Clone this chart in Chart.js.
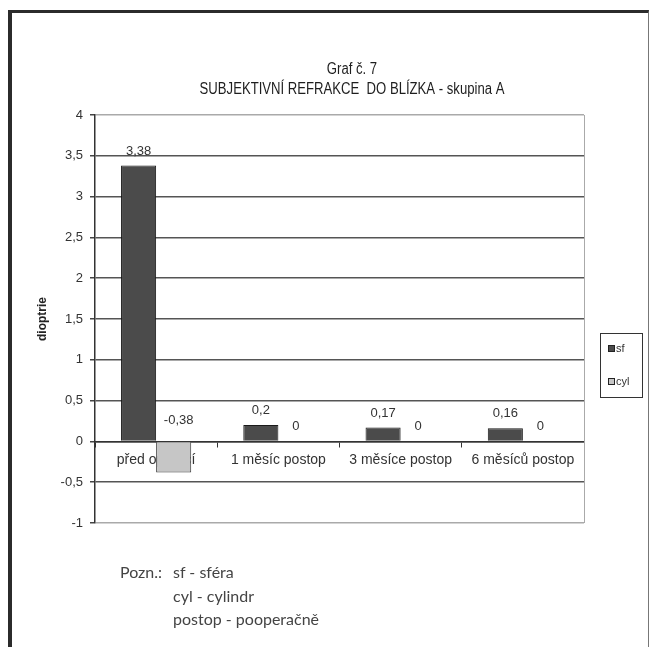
<!DOCTYPE html>
<html lang="cs">
<head>
    <meta charset="UTF-8">
    <title>Graf č. 7</title>
    <script src="https://cdn.jsdelivr.net/npm/chart.js"></script>
    <style>
        html, body { margin: 0; padding: 0; background: #fff; overflow: hidden; }
        .page { position: relative; width: 651px; height: 647px; }
        .frame {
            position: absolute; left: 8px; top: 10px; width: 636px; height: 660px;
            border-left: 4px solid #2b2b2b; border-top: 3px solid #2b2b2b; border-right: 1px solid #777;
        }
        .chart-box { position: absolute; left: 0; top: 0; width: 651px; height: 647px; }
        .notes {
            position: absolute; left: 120px; top: 560px;
            font-family: Lato, "Open Sans", sans-serif; font-size: 16px; line-height: 23.5px; color: #444;
        }
        .notes .label { position: absolute; left: 0; top: 0; white-space: nowrap; }
        .notes .lines { position: absolute; left: 53px; top: 0; white-space: nowrap; }
    </style>
</head>
<body>
<div class="page">
    <div class="frame"></div>
    <div class="chart-box"><canvas id="chart"></canvas></div>
    <div class="notes">
        <div class="label">Pozn.:</div>
        <div class="lines">sf - sféra<br>cyl - cylindr<br>postop - pooperačně</div>
    </div>
</div>
<script>
    // data
    const categories = ['před operací', '1 měsíc postop', '3 měsíce postop', '6 měsíců postop'];
    const seriesNames = ['sf', 'cyl'];
    const sfValues = [3.38, 0.2, 0.17, 0.16];
    const cylValues = [-0.38, 0, 0, 0];
    const yMin = -1, yMax = 4, yStep = 0.5;
    const titleLines = ['Graf č. 7', 'SUBJEKTIVNÍ REFRAKCE  DO BLÍZKA - skupina A'];
    const yAxisTitle = 'dioptrie';

    const fmt = v => String(Math.round(v * 100) / 100).replace('.', ',');
    const FONT = '"Liberation Sans", Arial, sans-serif';

    // two-line title in a condensed face (squeezed horizontally, no narrow font installed)
    const titlePlugin = {
        id: 'titleLines',
        afterDraw(chart) {
            const ctx = chart.ctx;
            ctx.save();
            ctx.fillStyle = '#1e1e1e';
            ctx.textAlign = 'center';
            ctx.textBaseline = 'middle';
            ctx.font = '16px ' + FONT;
            const cx = 352, sx = 0.82;
            ctx.scale(sx, 1);
            titleLines.forEach((t, i) => ctx.fillText(t, cx / sx, 70 + i * 20));
            ctx.restore();
        }
    };

    // value labels above bars (Excel style)
    const valueLabels = {
        id: 'valueLabels',
        afterDatasetsDraw(chart) {
            const ctx = chart.ctx;
            ctx.save();
            ctx.fillStyle = '#333';
            ctx.font = '13px ' + FONT;
            ctx.textAlign = 'center';
            ctx.textBaseline = 'bottom';
            chart.data.datasets.forEach((ds, di) => {
                chart.getDatasetMeta(di).data.forEach((bar, i) => {
                    const neg = ds.data[i] < 0;
                    const y = Math.min(bar.y, bar.base) - (neg ? 15 : 8);
                    ctx.fillText(fmt(ds.data[i]), bar.x + (neg ? 5 : 0), y);
                });
            });
            ctx.restore();
        }
    };

    // plot border on the right + boxed legend
    const extras = {
        id: 'extras',
        afterDraw(chart) {
            const ctx = chart.ctx;
            const a = chart.chartArea;
            ctx.save();
            ctx.strokeStyle = '#aaa';
            ctx.lineWidth = 1;
            ctx.beginPath();
            ctx.moveTo(Math.round(a.right) + 0.5, a.top);
            ctx.lineTo(Math.round(a.right) + 0.5, a.bottom);
            ctx.stroke();

            const lx = Math.round(a.right) + 16, ly = 333;
            ctx.strokeStyle = '#333';
            ctx.strokeRect(lx + 0.5, ly + 0.5, 42, 64);
            ctx.font = '11px ' + FONT;
            ctx.textBaseline = 'middle';
            chart.data.datasets.forEach((ds, i) => {
                const cy = ly + 15 + i * 33;
                ctx.fillStyle = ds.backgroundColor;
                ctx.fillRect(lx + 8, cy - 3, 6, 6);
                ctx.strokeStyle = '#222';
                ctx.strokeRect(lx + 8.5, cy - 2.5, 6, 6);
                ctx.fillStyle = '#333';
                ctx.fillText(ds.label, lx + 16, cy + 1);
            });
            ctx.restore();
        }
    };

    new Chart(document.getElementById('chart'), {
        type: 'bar',
        data: {
            labels: categories,
            datasets: [
                { label: seriesNames[0], data: sfValues, backgroundColor: '#4b4b4b', borderColor: '#1a1a1a', borderWidth: 1 },
                { label: seriesNames[1], data: cylValues, backgroundColor: '#c6c6c6', borderColor: '#3a3a3a', borderWidth: 1 }
            ]
        },
        options: {
            responsive: true,
            maintainAspectRatio: false,
            animation: false,
            layout: { padding: { left: 35, right: 67, top: 115, bottom: 124 } },
            datasets: { bar: { categoryPercentage: 0.574, barPercentage: 1 } },
            plugins: { legend: { display: false }, title: { display: false }, tooltip: { enabled: false } },
            scales: {
                x: {
                    position: { y: 0 },
                    grid: { offset: true, drawOnChartArea: false, drawTicks: true, tickLength: 5, color: '#333' },
                    border: { display: true, color: '#333', width: 1.5 },
                    ticks: { color: '#333', padding: 5, font: { size: 14, family: FONT }, maxRotation: 0 }
                },
                y: {
                    min: yMin, max: yMax,
                    afterFit(scale) { scale.width = 60; },
                    ticks: { stepSize: yStep, color: '#333', padding: 7, callback: v => fmt(v),
                             font: { size: 13, family: FONT } },
                    grid: {
                        color: c => (c.tick && (c.tick.value === yMax || c.tick.value === yMin)) ? '#aaa' : '#555',
                        tickColor: '#444', tickLength: 5, lineWidth: 1.5
                    },
                    border: { display: true, color: '#333', width: 1.5 },
                    title: { display: true, text: yAxisTitle, color: '#222', padding: 0,
                             font: { size: 12, weight: 'bold', family: FONT } }
                }
            }
        },
        plugins: [titlePlugin, valueLabels, extras]
    });
</script>
</body>
</html>
